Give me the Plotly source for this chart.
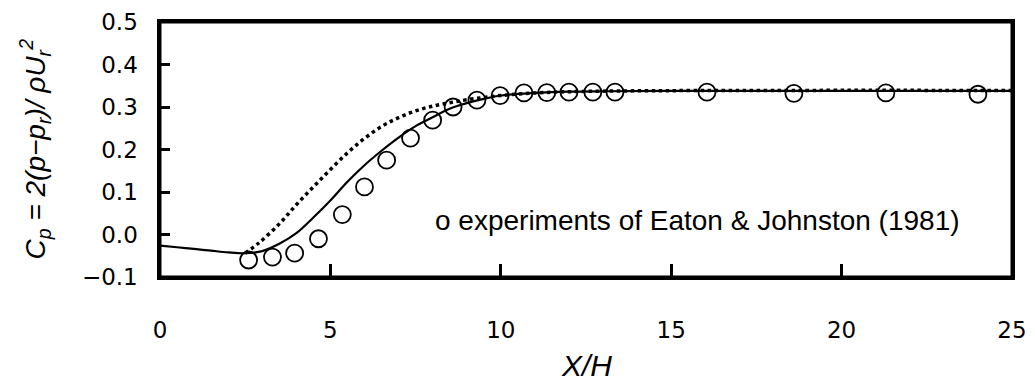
import plotly.graph_objects as go

# Experimental data (Eaton & Johnston 1981)
exp_x = [2.6, 3.3, 3.95, 4.65, 5.35, 6.0, 6.65, 7.35, 8.0, 8.6, 9.3, 9.98,
         10.68, 11.35, 12.0, 12.7, 13.35, 16.05, 18.6, 21.3, 24.0]
exp_y = [-0.060, -0.053, -0.044, -0.010, 0.047, 0.112, 0.175, 0.227, 0.269,
         0.300, 0.316, 0.327, 0.333, 0.334, 0.335, 0.335, 0.335, 0.335,
         0.332, 0.333, 0.330]

# Solid curve
solid_x = [0, 0.5, 1.0, 1.5, 2.0, 2.5, 3.0, 3.5, 4.0, 4.5, 5.0, 5.5, 6.0,
           6.5, 7.0, 7.5, 8.0, 8.5, 9.0, 9.5, 10.0, 11.0, 12.0, 13.0, 15.0,
           18.0, 21.0, 25.0]
solid_y = [-0.026, -0.030, -0.034, -0.038, -0.042, -0.044, -0.039, -0.022,
           0.003, 0.040, 0.080, 0.124, 0.163, 0.197, 0.228, 0.255, 0.276,
           0.296, 0.309, 0.319, 0.327, 0.333, 0.336, 0.337, 0.338, 0.338,
           0.338, 0.338]

# Dotted curve
dot_x = [2.5, 2.9, 3.5, 4.0, 4.5, 5.0, 5.5, 6.0, 6.5, 7.0, 7.5, 8.0, 8.5,
         9.0, 10.0, 11.0, 12.0, 14.0, 18.0, 25.0]
dot_y = [-0.044, -0.020, 0.025, 0.070, 0.112, 0.153, 0.192, 0.226, 0.254,
         0.275, 0.291, 0.302, 0.310, 0.317, 0.327, 0.333, 0.336, 0.338,
         0.339, 0.339]

x_range = [0, 25]
y_range = [-0.1, 0.5]
x_ticks = [0, 5, 10, 15, 20, 25]
x_ticklabels = ["0", "5", "10", "15", "20", "25"]
y_ticks = [-0.1, 0.0, 0.1, 0.2, 0.3, 0.4, 0.5]
y_ticklabels = ["\u22120.1", "0.0", "0.1", "0.2", "0.3", "0.4", "0.5"]

fig = go.Figure()
fig.add_trace(go.Scatter(x=solid_x, y=solid_y, mode="lines",
                         line=dict(color="black", width=2.2, shape="spline"),
                         showlegend=False))
fig.add_trace(go.Scatter(x=dot_x, y=dot_y, mode="lines",
                         line=dict(color="black", width=3.5, dash="dot",
                                   shape="spline"),
                         showlegend=False))
fig.add_trace(go.Scatter(x=exp_x, y=exp_y, mode="markers",
                         marker=dict(symbol="circle-open", size=17,
                                     color="black", line=dict(width=1.8)),
                         showlegend=False))

tick_font = dict(family="DejaVu Sans", size=23, color="black")
minor_common = dict(showticklabels=False, showline=False, showgrid=False,
                    zeroline=False, ticks="inside", tickwidth=3,
                    tickcolor="black", tickmode="linear", tick0=0,
                    automargin=False)

fig.update_layout(
    template="none",
    xaxis=dict(range=x_range, tickmode="array", tickvals=x_ticks,
               ticktext=["<br>" + t for t in x_ticklabels],
               ticks="inside", ticklen=13, tickwidth=3, tickcolor="black",
               showline=True, linewidth=3, linecolor="black", mirror=True,
               showgrid=False, zeroline=False, tickfont=tick_font,
               automargin=False),
    yaxis=dict(range=y_range, tickmode="array", tickvals=y_ticks,
               ticktext=[t + "\u00a0\u00a0" for t in y_ticklabels],
               ticks="inside", ticklen=10, tickwidth=3, tickcolor="black",
               showline=True, linewidth=3, linecolor="black", mirror=True,
               showgrid=False, zeroline=False, tickfont=tick_font,
               automargin=False),
    xaxis2=dict(range=x_range, overlaying="x", anchor="y", side="bottom",
                dtick=2.5, ticklen=6, **minor_common),
    xaxis3=dict(range=x_range, overlaying="x", anchor="y", side="top",
                dtick=2.5, ticklen=8, **minor_common),
    yaxis2=dict(range=y_range, overlaying="y", anchor="x", side="left",
                dtick=0.05, ticklen=8, **minor_common),
    yaxis3=dict(range=y_range, overlaying="y", anchor="x", side="right",
                dtick=0.05, ticklen=8, **minor_common),
    width=1035, height=390,
    margin=dict(l=160, r=23, t=22, b=113, autoexpand=False),
    plot_bgcolor="white", paper_bgcolor="white",
    shapes=[dict(type="rect", xref="paper", yref="paper", x0=0, x1=1,
                 y0=0, y1=1, line=dict(color="black", width=3),
                 layer="above")],
)

fig.add_annotation(text="o experiments of Eaton &amp; Johnston (1981)",
                   xref="paper", yref="paper", x=(433 - 160) / 852,
                   y=(277 - 220) / 255, xanchor="left", yanchor="middle",
                   showarrow=False,
                   font=dict(family="Liberation Sans", size=28, color="black"))
fig.add_annotation(text="<i>C<sub>p</sub> = 2(p\u2212p<sub>r</sub>)/ \u03c1U<sub>r</sub><sup>2</sup></i>",
                   xref="paper", yref="paper", x=0, y=0.5, xshift=-125,
                   xanchor="center", yanchor="middle", textangle=-90,
                   showarrow=False,
                   font=dict(family="Liberation Sans", size=28, color="black"))
fig.add_annotation(text="<i>X/H</i>", xref="paper", yref="paper", x=0.5, y=0,
                   yshift=-88, xanchor="center", yanchor="middle",
                   showarrow=False,
                   font=dict(family="Liberation Sans", size=30, color="black"))

fig.write_html("out.html")
